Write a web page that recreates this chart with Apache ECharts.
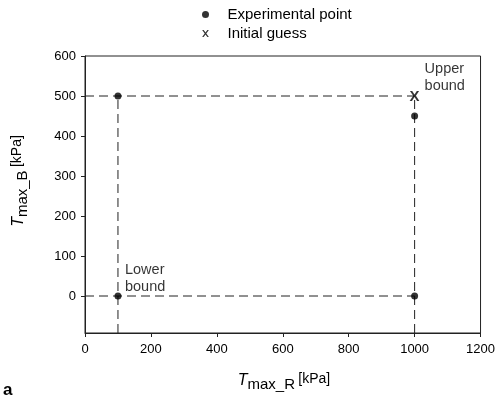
<!DOCTYPE html>
<html>
<head>
<meta charset="utf-8">
<script src="https://cdn.jsdelivr.net/npm/echarts@6/dist/echarts.min.js"></script>
<style>
  html, body { margin: 0; padding: 0; background: #fff; }
  #chart { width: 498px; height: 395px; }
</style>
</head>
<body>
<div id="chart"></div>
<script>
// Measured points (T_max_R, T_max_B) in kPa
const expX = [100, 100, 1000, 1000];
const expY = [500, 0, 0, 450];
// Starting estimate
const guessX = [1000];
const guessY = [500];
// Search box corners
const boundNames = ['Lower\nbound', 'Upper\nbound'];
const boundX = [100, 1000];
const boundY = [0, 500];
// Axis ticks
const xTicks = [0, 200, 400, 600, 800, 1000, 1200];
const yTicks = [0, 100, 200, 300, 400, 500, 600];

const X_MIN = 0, X_MAX = 1200, Y_MIN = -92.5, Y_MAX = 600;
const INK = '#000';
const LINE = '#222';
const FONT = '"Liberation Sans", Arial, sans-serif';

const dash = { color: LINE, width: 1, type: [9, 5] };
function dashed(points) {
  return {
    type: 'line', data: points, symbol: 'none', silent: true,
    lineStyle: dash, z: 1, animation: false
  };
}

// Box edges: horizontal lines from the y axis to the upper x bound,
// vertical lines from the bottom of the plot up to the upper y bound
const boxLines = [];
boundY.forEach(function (y) { boxLines.push(dashed([[X_MIN, y], [boundX[1], y]])); });
boundX.forEach(function (x) { boxLines.push(dashed([[x, Y_MIN], [x, boundY[1]]])); });

const xIcon = 'path://M0,0L2.2,0L5,3.8L7.8,0L10,0L6.2,5.2L10,10.5L7.8,10.5L5,6.6L2.2,10.5L0,10.5L3.8,5.2Z';

const titleRich = {
  t: { fontFamily: FONT, fontSize: 16, fontStyle: 'italic', fill: INK },
  s: { fontFamily: FONT, fontSize: 15, fill: INK, padding: [8, 0, 0, 0] },
  k: { fontFamily: FONT, fontSize: 14, fill: INK, padding: [0, 0, 4, 0] }
};

const chart = echarts.init(document.getElementById('chart'), null, { renderer: 'canvas' });
chart.setOption({
  animation: false,
  backgroundColor: '#fff',
  textStyle: { fontFamily: FONT },
  grid: {
    left: 85, right: 17, top: 56, bottom: 62,
    show: true, borderColor: LINE, borderWidth: 1, backgroundColor: 'transparent'
  },
  legend: {
    orient: 'vertical', left: 197, top: 2, itemGap: 4,
    itemWidth: 34, itemHeight: 7,
    selectedMode: false,
    textStyle: { fontFamily: FONT, fontSize: 15, color: INK },
    data: [
      { name: 'Experimental point', icon: 'circle', itemStyle: { color: '#000' } },
      { name: 'Initial guess', icon: xIcon, itemStyle: { color: '#000' } }
    ]
  },
  xAxis: {
    type: 'value', min: X_MIN, max: X_MAX, interval: 200,
    axisLine: { onZero: false, lineStyle: { color: LINE } },
    axisTick: { length: 4, lineStyle: { color: LINE } },
    axisLabel: { fontFamily: FONT, fontSize: 13, color: INK, margin: 10,
                 customValues: xTicks, formatter: function (v) { return String(v); } },
    splitLine: { show: false }
  },
  yAxis: {
    type: 'value', min: Y_MIN, max: Y_MAX,
    axisLine: { onZero: false, lineStyle: { color: LINE } },
    axisTick: { length: 4, lineStyle: { color: LINE }, customValues: yTicks },
    axisLabel: { fontFamily: FONT, fontSize: 13, color: INK, margin: 9,
                 customValues: yTicks, formatter: function (v) { return String(v); } },
    splitLine: { show: false }
  },
  series: boxLines.concat([
    {
      name: 'Experimental point', type: 'scatter', z: 3,
      data: expX.map(function (x, i) { return [x, expY[i]]; }),
      symbol: 'circle', symbolSize: 7,
      itemStyle: { color: '#000' }
    },
    {
      name: 'Initial guess', type: 'scatter', z: 4,
      data: guessX.map(function (x, i) { return [x, guessY[i]]; }),
      symbol: 'circle', symbolSize: 1,
      itemStyle: { color: 'rgba(0,0,0,0)' },
      label: {
        show: true, position: 'inside', formatter: 'X',
        fontFamily: FONT, fontSize: 15, fontWeight: 'bold', color: '#000',
        textBorderWidth: 0, offset: [0, 1]
      }
    },
    {
      name: 'bounds', type: 'scatter', z: 4, silent: true,
      data: boundX.map(function (x, i) { return { name: boundNames[i], value: [x, boundY[i]] }; }),
      symbolSize: 0,
      label: {
        show: true, formatter: '{b}', align: 'left', verticalAlign: 'bottom',
        fontFamily: FONT, fontSize: 14.5, lineHeight: 17, color: INK, textBorderWidth: 0
      },
      labelLayout: function (p) {
        return p.dataIndex === 0 ? { dx: 7, dy: -1 } : { dx: 10, dy: -2 };
      }
    }
  ]),
  graphic: [
    {
      type: 'text', x: 284, y: 381,
      style: {
        x: 0, y: 0, align: 'center', verticalAlign: 'middle',
        text: '{t|T}{s|max_R} {k|[kPa]}', fill: INK, rich: titleRich
      }
    },
    {
      type: 'text', x: 19, y: 181, rotation: Math.PI / 2,
      style: {
        x: 0, y: 0, align: 'center', verticalAlign: 'middle',
        text: '{t|T}{s|max_B} {k|[kPa]}', fill: INK, rich: titleRich
      }
    },
    {
      type: 'text', x: 3, y: 399,
      style: {
        text: 'a', fontFamily: FONT, fontSize: 17, fontWeight: 'bold', fill: '#000',
        align: 'left', verticalAlign: 'bottom'
      }
    }
  ]
});
</script>
</body>
</html>
